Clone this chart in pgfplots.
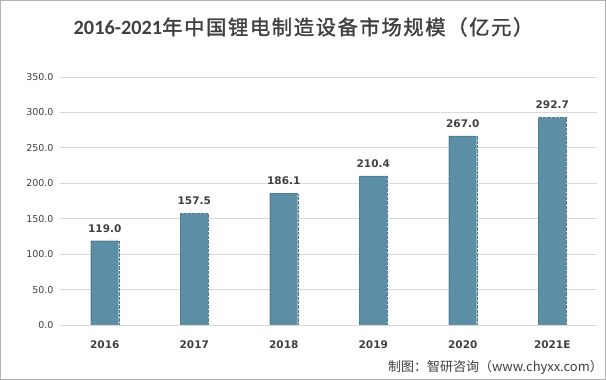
\documentclass[border=0pt]{standalone}
\usepackage{pgfplots}
\pgfplotsset{compat=1.18}
\usepackage{fontspec}
\setmainfont{DejaVu Sans}
\newfontfamily\cjk{Noto Sans CJK SC}
\newfontfamily\cjkt[LetterSpace=8,FakeBold=1.5]{Noto Sans CJK SC}
\newfontfamily\carl{Carlito}
\definecolor{barc}{RGB}{92,143,166}
\definecolor{gridc}{RGB}{217,217,217}
\definecolor{txt}{RGB}{64,64,64}
\begin{document}
\begin{tikzpicture}[x=1pt,y=1pt]
\draw[fill=white, draw=gray!60, line width=1pt] (0.5,0.5) rectangle (605.5,379.5);
\begin{axis}[
  at={(60pt,55pt)}, anchor=south west,
  width=537pt, height=248pt, scale only axis,
  xmin=-0.5, xmax=5.5, ymin=0, ymax=350,
  ytick={0,50,...,350},
  xtick={0,1,2,3,4,5},
  xticklabels={2016,2017,2018,2019,2020,2021E},
  ymajorgrids, grid style={draw=gridc, line width=0.8pt},
  axis line style={draw=none},
  major tick length=0pt,
  /pgf/number format/assume math mode=true,
  yticklabel style={font=\fontsize{9.5}{11}\selectfont, text=txt, /pgf/number format/fixed, /pgf/number format/fixed zerofill, /pgf/number format/precision=1, xshift=-3pt},
  xticklabel style={font=\fontsize{10.5}{12}\selectfont\bfseries, text=txt, yshift=-12pt},
  ybar, bar width=28pt,
  nodes near coords,
  every node near coord/.append style={font=\fontsize{10.5}{12}\selectfont\bfseries, text=txt, /pgf/number format/fixed, /pgf/number format/fixed zerofill, /pgf/number format/precision=1, yshift=5pt},
]
\addplot[fill=barc, draw=barc!85!black, densely dotted, line width=0.3pt] coordinates {(0,119.0) (1,157.5) (2,186.1) (3,210.4) (4,267.0) (5,292.7)};
\end{axis}
\node[text=txt] at (303.5,353) {\fontsize{20.3}{24}\selectfont{\carl\bfseries 2016-2021}{\cjkt 年中国锂电制造设备市场规模（亿元）}};
\node[anchor=east, text=txt, inner sep=0pt] at (603,13) {\fontsize{13}{15}\selectfont\cjk 制图：智研咨询（www.chyxx.com）};
\end{tikzpicture}
\end{document}
